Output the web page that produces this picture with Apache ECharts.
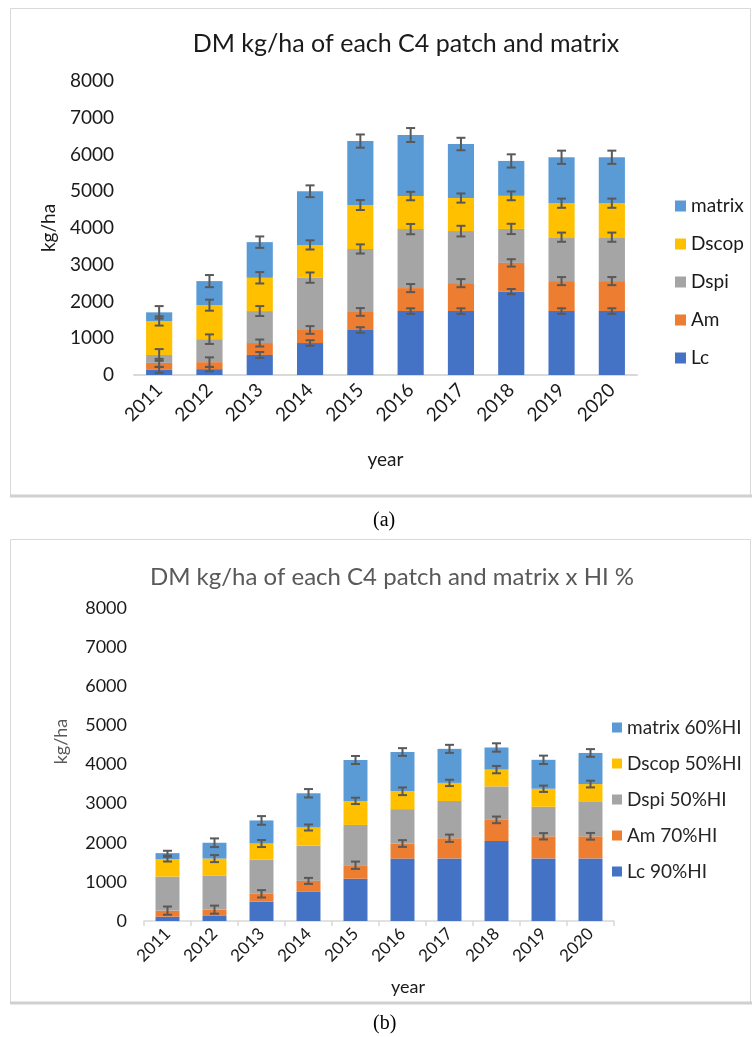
<!DOCTYPE html>
<html>
<head>
<meta charset="utf-8">
<script src="https://cdn.jsdelivr.net/npm/echarts@6/dist/echarts.min.js"></script>
<style>
  body { margin: 0; background: #fff; }
  #main { width: 752px; height: 1037px; }
</style>
</head>
<body>
<div id="main"></div>
<script>
const years = ['2011', '2012', '2013', '2014', '2015', '2016', '2017', '2018', '2019', '2020']
const yTicks = { min: 0, max: 8000, interval: 1000 }

// (a) DM kg/ha
const lcA = [140, 160, 545, 870, 1225, 1740, 1740, 2270, 1740, 1740]
const amA = [190, 190, 325, 355, 490, 625, 760, 780, 815, 815]
const dspiA = [215, 625, 870, 1425, 1715, 1605, 1415, 925, 1195, 1195]
const dscopA = [925, 925, 905, 890, 1195, 900, 900, 900, 925, 925]
const matrixA = [235, 655, 970, 1460, 1740, 1660, 1470, 950, 1250, 1250]
// error bar half-lengths (a)
const lcErrA = [80, 60, 80, 75, 75, 75, 75, 70, 75, 75]
const amErrA = [110, 130, 95, 105, 105, 110, 110, 100, 110, 110]
const dspiErrA = [160, 130, 135, 140, 125, 140, 145, 140, 125, 125]
const dscopErrA = [125, 150, 155, 125, 135, 115, 125, 120, 125, 125]
const matrixErrA = [170, 165, 155, 160, 180, 190, 170, 180, 180, 180]

// (b) DM kg/ha x HI %
const lcB = [110, 130, 495, 745, 1080, 1595, 1600, 2045, 1600, 1600]
const amB = [155, 160, 200, 280, 345, 385, 515, 540, 565, 565]
const dspiB = [870, 875, 875, 900, 1030, 880, 950, 855, 755, 895]
const dscopB = [445, 430, 410, 465, 615, 455, 465, 430, 460, 440]
const matrixB = [155, 405, 590, 875, 1045, 1005, 870, 565, 740, 795]
// error bars (b) only on Am, Dscop, matrix
const amErrB = [105, 103, 94, 77, 94, 86, 94, 85, 81, 86]
const dscopErrB = [60, 90, 90, 77, 81, 98, 81, 94, 81, 86]
const matrixErrB = [60, 111, 111, 107, 103, 98, 103, 107, 107, 98]

const namesA = ['Lc', 'Am', 'Dspi', 'Dscop', 'matrix']
const namesB = ['Lc 90%HI', 'Am 70%HI', 'Dspi 50%HI', 'Dscop 50%HI', 'matrix 60%HI']
const colors = ['#4472C4', '#ED7D31', '#A5A5A5', '#FFC000', '#5B9BD5']
const font = 'Lato'

// cumulative top of each stacked series
function tops(list) {
  const out = []
  let acc = years.map(() => 0)
  list.forEach(arr => {
    acc = acc.map((v, i) => v + arr[i])
    out.push(acc.slice())
  })
  return out
}

function errRender(params, api) {
  const x = api.value(0)
  const top = api.value(1)
  const e = api.value(2)
  const hi = api.coord([x, top + e])
  const lo = api.coord([x, top - e])
  const w = 4.5
  const style = { stroke: '#595959', lineWidth: 2 }
  return {
    type: 'group',
    children: [
      { type: 'line', shape: { x1: hi[0], y1: hi[1], x2: lo[0], y2: lo[1] }, style: style },
      { type: 'line', shape: { x1: hi[0] - w, y1: hi[1], x2: hi[0] + w, y2: hi[1] }, style: style },
      { type: 'line', shape: { x1: lo[0] - w, y1: lo[1], x2: lo[0] + w, y2: lo[1] }, style: style }
    ]
  }
}

function errSeries(topArr, errArr, idx) {
  return {
    type: 'custom',
    name: 'err',
    xAxisIndex: idx,
    yAxisIndex: idx,
    renderItem: errRender,
    z: 10,
    data: years.map((y, i) => [i, topArr[i], errArr[i]])
  }
}

const dataA = [lcA, amA, dspiA, dscopA, matrixA]
const dataB = [lcB, amB, dspiB, dscopB, matrixB]
const topsA = tops(dataA)
const topsB = tops(dataB)
const errsA = [lcErrA, amErrA, dspiErrA, dscopErrA, matrixErrA]

const series = []
dataA.forEach((arr, k) => {
  series.push({
    type: 'bar', name: namesA[k], stack: 'a', xAxisIndex: 0, yAxisIndex: 0,
    barWidth: '52%', itemStyle: { color: colors[k] }, data: arr
  })
})
dataB.forEach((arr, k) => {
  series.push({
    type: 'bar', name: namesB[k], stack: 'b', xAxisIndex: 1, yAxisIndex: 1,
    barWidth: '51%', itemStyle: { color: colors[k] }, data: arr
  })
})
errsA.forEach((e, k) => series.push(errSeries(topsA[k], e, 0)))
series.push(errSeries(topsB[1], amErrB, 1))
series.push(errSeries(topsB[3], dscopErrB, 1))
series.push(errSeries(topsB[4], matrixErrB, 1))

const plain = v => String(v)

const chart = echarts.init(document.getElementById('main'))
chart.setOption({
  animation: false,
  textStyle: { fontFamily: font },
  title: [
    {
      text: 'DM kg/ha of each C4 patch and matrix',
      left: 401, top: 26, textAlign: 'center',
      textStyle: { fontFamily: font, fontSize: 25, fontWeight: 'normal', color: '#1a1a1a' }
    },
    {
      text: 'DM kg/ha of each C4 patch and matrix x HI %',
      left: 387, top: 560, textAlign: 'center',
      textStyle: { fontFamily: font, fontSize: 24, fontWeight: 'normal', color: '#595959' }
    }
  ],
  legend: [
    {
      data: namesA.slice().reverse(),
      orient: 'vertical', left: 670, top: 191,
      icon: 'rect', itemWidth: 11, itemHeight: 11, itemGap: 18,
      textStyle: { fontFamily: font, fontSize: 19, lineHeight: 20, color: '#1a1a1a' }
    },
    {
      data: namesB.slice().reverse(),
      orient: 'vertical', left: 607, top: 712,
      icon: 'rect', itemWidth: 10, itemHeight: 10, itemGap: 15,
      textStyle: { fontFamily: font, fontSize: 19, lineHeight: 21, color: '#262626' }
    }
  ],
  grid: [
    { left: 134, right: 115, top: 81, bottom: 662 },
    { left: 144, right: 138, top: 608, bottom: 116 }
  ],
  xAxis: [
    {
      type: 'category', gridIndex: 0, data: years,
      name: 'year', nameLocation: 'middle', nameGap: 75,
      nameTextStyle: { fontFamily: font, fontSize: 19, color: '#1a1a1a' },
      axisLine: { lineStyle: { color: '#d9d9d9', width: 2 } },
      axisTick: { show: false },
      axisLabel: { rotate: 45, interval: 0, margin: 12, fontSize: 19, color: '#1a1a1a', fontFamily: font }
    },
    {
      type: 'category', gridIndex: 1, data: years,
      name: 'year', nameLocation: 'middle', nameGap: 57,
      nameTextStyle: { fontFamily: font, fontSize: 18, color: '#1a1a1a', padding: [0, 0, 0, 58] },
      axisLine: { lineStyle: { color: '#d9d9d9', width: 1.5 } },
      axisTick: { show: true, length: 5, lineStyle: { color: '#d9d9d9', width: 1.5 } },
      axisLabel: { rotate: 45, interval: 0, margin: 10, fontSize: 17, color: '#1a1a1a', fontFamily: font }
    }
  ],
  yAxis: [
    {
      type: 'value', gridIndex: 0, min: yTicks.min, max: yTicks.max, interval: yTicks.interval,
      name: 'kg/ha', nameLocation: 'middle', nameGap: 76,
      nameTextStyle: { fontFamily: font, fontSize: 19, color: '#1a1a1a' },
      axisLine: { show: false }, axisTick: { show: false }, splitLine: { show: false },
      axisLabel: { margin: 20, fontSize: 19, color: '#1a1a1a', fontFamily: font, formatter: plain }
    },
    {
      type: 'value', gridIndex: 1, min: yTicks.min, max: yTicks.max, interval: yTicks.interval,
      name: 'kg/ha', nameLocation: 'middle', nameGap: 74,
      nameTextStyle: { fontFamily: font, fontSize: 18, color: '#595959', padding: [0, 0, 0, 46] },
      axisLine: { show: false }, axisTick: { show: false }, splitLine: { show: false },
      axisLabel: { margin: 17, fontSize: 18, color: '#1a1a1a', fontFamily: font, formatter: plain }
    }
  ],
  graphic: [
    { type: 'rect', shape: { x: 10.5, y: 8.5, width: 740, height: 487 }, style: { fill: 'none', stroke: '#d9d9d9', lineWidth: 1 } },
    { type: 'line', shape: { x1: 10, y1: 496, x2: 752, y2: 496 }, style: { stroke: '#d0d0d0', lineWidth: 3 } },
    { type: 'rect', shape: { x: 10.5, y: 539.5, width: 740, height: 463 }, style: { fill: 'none', stroke: '#d9d9d9', lineWidth: 1 } },
    { type: 'line', shape: { x1: 10, y1: 1003, x2: 752, y2: 1003 }, style: { stroke: '#d0d0d0', lineWidth: 3 } },
    { type: 'text', left: 373, top: 511, style: { text: '(a)', font: '20px "Liberation Serif"', fill: '#000' } },
    { type: 'text', left: 373, top: 1014, style: { text: '(b)', font: '20px "Liberation Serif"', fill: '#000' } }
  ],
  series: series
})
window.addEventListener('resize', function() {
  chart.resize()
})
</script>
</body>
</html>
